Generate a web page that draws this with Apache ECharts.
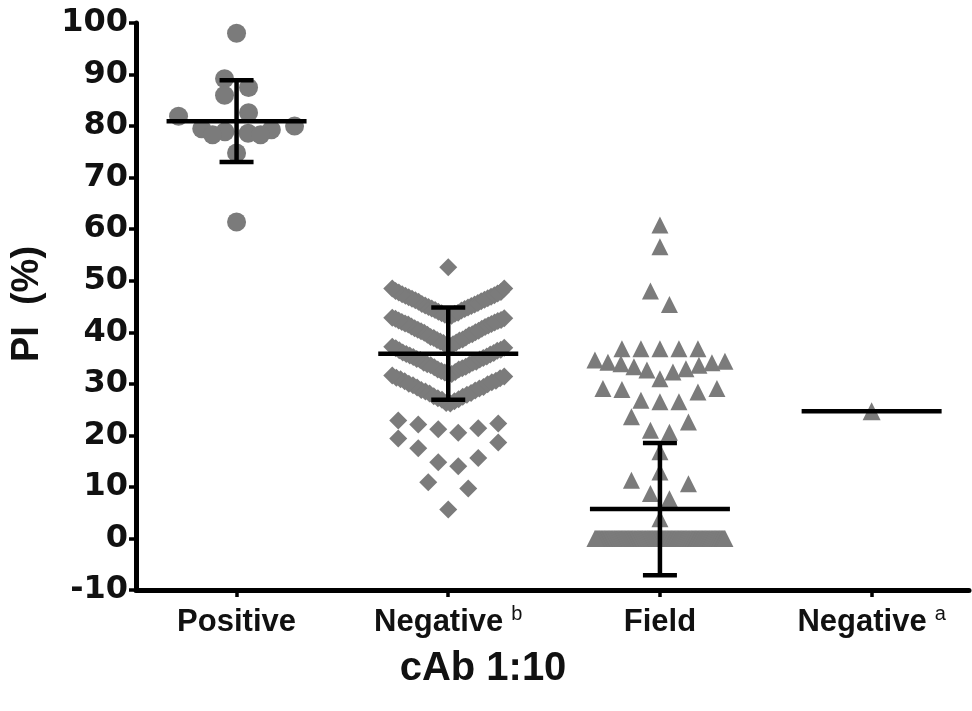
<!DOCTYPE html>
<html>
<head>
<meta charset="utf-8">
<script src="https://cdn.jsdelivr.net/npm/echarts@6/dist/echarts.min.js"></script>
<style>
  html, body { margin: 0; padding: 0; background: #ffffff; }
  #main { width: 972px; height: 711px; }
</style>
</head>
<body>
<div id="main"></div>
<script>
// ---- data -------------------------------------------------------------
const groupNames = ['Positive', 'Negative', 'Field', 'Negative'];
const groupSuperscripts = ['', 'b', '', 'a'];
const groupPositions = [1, 2, 3, 4];

const positiveValues = [
  98.0, 89.2, 87.5, 86.0, 82.6, 81.9, 80.0,
  79.5, 79.3, 78.9, 78.6, 78.3, 78.3,
  74.8, 61.4
];

const negativeBValues = [
  // low scattered readings
  5.6, 9.7, 10.9, 14.0, 14.8, 15.6, 17.5, 18.6, 19.4,
  20.5, 21.2, 21.4, 22.1, 22.3, 22.9,
  // 26-32 %
  26.2, 26.3, 26.6, 26.9, 27.0, 27.2, 27.5, 27.6, 27.9, 28.1, 28.2, 28.5, 28.7, 28.8,
  29.1, 29.3, 29.4, 29.7, 29.9, 30.0, 30.3, 30.5, 30.6, 30.9, 31.1, 31.2, 31.4, 31.6,
  // 32-37 %
  31.8, 31.9, 32.2, 32.3, 32.5, 32.8, 32.8, 33.0, 33.2, 33.3, 33.6, 33.7, 33.8, 34.1,
  34.1, 34.3, 34.6, 34.7, 34.8, 35.0, 35.2, 35.3, 35.5, 35.7, 35.8, 36.0, 36.1, 36.4,
  36.5, 36.6, 36.9, 37.0, 37.2,
  // 37-43 %
  37.4, 37.5, 37.7, 37.9, 38.0, 38.2, 38.4, 38.5, 38.6, 38.9, 39.0, 39.1, 39.4, 39.5,
  39.6, 39.9, 40.0, 40.2, 40.3, 40.5, 40.7, 40.8, 41.0, 41.1, 41.3, 41.5, 41.6, 41.7,
  41.9, 42.0, 42.2, 42.3, 42.4, 42.6, 42.7, 42.8,
  // 43-48 %
  43.1, 43.2, 43.4, 43.6, 43.7, 43.8, 44.0, 44.2, 44.3, 44.5, 44.6, 44.8, 44.9, 45.1,
  45.2, 45.4, 45.5, 45.7, 45.9, 46.0, 46.2, 46.3, 46.5, 46.6, 46.8, 46.9, 47.1, 47.2,
  47.4, 47.5, 47.7, 47.8, 48.0,
  // highest readings
  48.5, 48.5, 52.6
];

const fieldValues = [
  // samples reading 0 %
  0, 0, 0, 0, 0, 0, 0, 0, 0, 0, 0, 0, 0, 0, 0, 0, 0, 0, 0, 0,
  0, 0, 0, 0, 0, 0, 0, 0, 0, 0, 0, 0, 0, 0, 0, 0, 0, 0, 0, 0,
  0, 0, 0, 0, 0, 0, 0, 0, 0, 0, 0, 0, 0, 0, 0, 0, 0, 0, 0, 0,
  0, 0, 0, 0, 0, 0, 0, 0, 0, 0, 0, 0, 0, 0, 0, 0, 0, 0, 0, 0,
  0, 0, 0, 0, 0, 0, 0, 0, 0, 0, 0, 0, 0, 0, 0, 0, 0, 0, 0, 0,
  0, 0, 0, 0, 0, 0, 0, 0, 0, 0, 0, 0, 0, 0, 0, 0, 0, 0, 0, 0,
  0, 0, 0, 0, 0, 0, 0, 0, 0, 0, 0, 0, 0, 0, 0, 0, 0, 0, 0, 0,
  0, 0, 0, 0, 0, 0, 0, 0, 0, 0, 0, 0, 0, 0, 0, 0, 0, 0,
  // positive readings
  3.8, 7.7, 8.7, 10.6, 11.3, 12.9, 16.8,
  20.6, 21.0, 22.6, 23.6,
  26.5, 26.5, 26.8, 28.4, 28.9, 29.1, 29.1,
  31.0, 32.3, 32.7, 32.9, 33.3, 33.6, 33.9, 34.1, 34.2, 34.4, 34.6,
  36.8, 36.8, 36.8, 36.8, 36.8,
  45.4, 48.0, 56.6, 60.8
];

const negativeAValues = [24.7];

const yTicks = { min: -10, max: 100, step: 10 };

// ---- layout helpers ---------------------------------------------------
const GRID = { left: 136, right: 3, top: 23, bottom: 121 };
const X_MIN = 0.525, X_MAX = 4.46;
const POINT_COLOR = '#7b7b7b';

// Column scatter: values are grouped into rows of height `binSize`;
// inside a row the lowest values sit in the middle, higher ones outward.
function columnOffsets(values, binSize, spacingPx, maxHalfPx) {
  const order = values.map((v, i) => i).sort((a, b) => values[a] - values[b]);
  const offsets = new Array(values.length).fill(0);
  let i = 0;
  while (i < order.length) {
    const start = values[order[i]];
    let j = i;
    while (j < order.length && values[order[j]] <= start + binSize + 1e-9) j++;
    const row = order.slice(i, j);
    const k = row.length;
    const step = k > 1 ? Math.min(spacingPx, (2 * maxHalfPx) / (k - 1)) : 0;
    const slots = [];
    if (k % 2 === 1) {
      slots.push(0);
      for (let s = 1; slots.length < k; s++) { slots.push(s); if (slots.length < k) slots.push(-s); }
    } else {
      for (let s = 0.5; slots.length < k; s += 1) { slots.push(s); if (slots.length < k) slots.push(-s); }
    }
    row.forEach((id, r) => { offsets[id] = slots[r] * step; });
    i = j;
  }
  return offsets;
}

function meanSd(values) {
  const n = values.length;
  const mean = values.reduce((a, b) => a + b, 0) / n;
  if (n < 2) return { mean, sd: null };
  const ss = values.reduce((a, b) => a + (b - mean) * (b - mean), 0);
  return { mean, sd: Math.sqrt(ss / (n - 1)) };
}

const chart = echarts.init(document.getElementById('main'), null, { renderer: 'canvas' });
const plotWidth = chart.getWidth() - GRID.left - GRID.right;
const unitsPerPx = (X_MAX - X_MIN) / plotWidth;

function columnData(values, pos, binSize, spacingPx, maxHalfPx) {
  const off = columnOffsets(values, binSize, spacingPx, maxHalfPx);
  return values.map((v, i) => [pos + off[i] * unitsPerPx, v]);
}

const groups = [
  { values: positiveValues,  symbol: 'circle',   size: 19, bin: 3.5, spacing: 24, half: 58 },
  { values: negativeBValues, symbol: 'diamond',  size: 18, bin: 5.5, spacing: 20, half: 56 },
  { values: fieldValues,     symbol: 'triangle', size: 17, bin: 3.7, spacing: 19, half: 65 },
  { values: negativeAValues, symbol: 'triangle', size: 18, bin: 3.7, spacing: 19, half: 60 }
];

const scatterSeries = groups.map((g, gi) => ({
  type: 'scatter',
  symbol: g.symbol,
  symbolSize: g.size,
  silent: true,
  z: 2,
  itemStyle: { color: POINT_COLOR, opacity: 1 },
  data: columnData(g.values, groupPositions[gi], g.bin, g.spacing, g.half)
}));

const statsData = groups.map((g, gi) => {
  const s = meanSd(g.values);
  return [groupPositions[gi], s.mean, s.sd === null ? -1 : s.sd];
});

const MEAN_HALF_PX = 70, CAP_HALF_PX = 17, STAT_LINE = 4.5;

const statsSeries = {
  type: 'custom',
  silent: true,
  z: 10,
  data: statsData,
  renderItem: function (params, api) {
    const x = api.value(0), m = api.value(1), sd = api.value(2);
    const c = api.coord([x, m]);
    const style = { stroke: '#000000', lineWidth: STAT_LINE, fill: null };
    const children = [{
      type: 'line',
      shape: { x1: c[0] - MEAN_HALF_PX, y1: c[1], x2: c[0] + MEAN_HALF_PX, y2: c[1] },
      style: style
    }];
    if (sd > 0) {
      const top = api.coord([x, m + sd]);
      const bot = api.coord([x, m - sd]);
      children.push(
        { type: 'line', shape: { x1: c[0], y1: top[1], x2: c[0], y2: bot[1] }, style: style },
        { type: 'line', shape: { x1: c[0] - CAP_HALF_PX, y1: top[1], x2: c[0] + CAP_HALF_PX, y2: top[1] }, style: style },
        { type: 'line', shape: { x1: c[0] - CAP_HALF_PX, y1: bot[1], x2: c[0] + CAP_HALF_PX, y2: bot[1] }, style: style }
      );
    }
    return { type: 'group', children: children };
  }
};

const option = {
  animation: false,
  backgroundColor: '#ffffff',
  grid: GRID,
  xAxis: {
    type: 'value',
    min: X_MIN,
    max: X_MAX,
    splitLine: { show: false },
    axisLine: { show: true, onZero: false, lineStyle: { color: '#000000', width: 5 } },
    axisTick: { show: true, customValues: groupPositions, length: 7, lineStyle: { color: '#000000', width: 3.5 } },
    axisLabel: {
      customValues: groupPositions,
      margin: 14,
      formatter: function (v) {
        const i = groupPositions.indexOf(Math.round(v));
        if (i < 0) return '';
        const sup = groupSuperscripts[i];
        return sup ? '{m|' + groupNames[i] + '}{s|' + sup + '}' : '{m|' + groupNames[i] + '}';
      },
      rich: {
        m: { fontFamily: 'Liberation Sans', fontWeight: 'bold', fontSize: 31, lineHeight: 36, color: '#111111' },
        s: { fontFamily: 'Liberation Sans', fontWeight: 'normal', fontSize: 20, lineHeight: 20, color: '#111111', verticalAlign: 'top', padding: [0, 0, 0, 8] }
      }
    }
  },
  yAxis: {
    type: 'value',
    min: yTicks.min,
    max: yTicks.max,
    interval: yTicks.step,
    splitLine: { show: false },
    axisLine: { show: true, lineStyle: { color: '#000000', width: 5 } },
    axisTick: { show: true, length: 7, lineStyle: { color: '#000000', width: 3.5 } },
    axisLabel: {
      margin: 8,
      fontFamily: 'DejaVu Sans',
      fontWeight: 'bold',
      fontSize: 32,
      color: '#111111'
    }
  },
  graphic: [
    {
      type: 'text',
      x: 28, y: 304,
      rotation: Math.PI / 2,
      style: {
        text: 'PI  (%)',
        fontFamily: 'Liberation Sans', fontWeight: 'bold', fontSize: 38,
        fill: '#111111', textAlign: 'center', textVerticalAlign: 'middle'
      }
    },
    {
      type: 'text',
      x: 483, y: 669,
      style: {
        text: 'cAb 1:10',
        fontFamily: 'Liberation Sans', fontWeight: 'bold', fontSize: 40,
        fill: '#111111', textAlign: 'center', textVerticalAlign: 'middle'
      }
    }
  ],
  series: scatterSeries.concat([statsSeries])
};

chart.setOption(option);
</script>
</body>
</html>
